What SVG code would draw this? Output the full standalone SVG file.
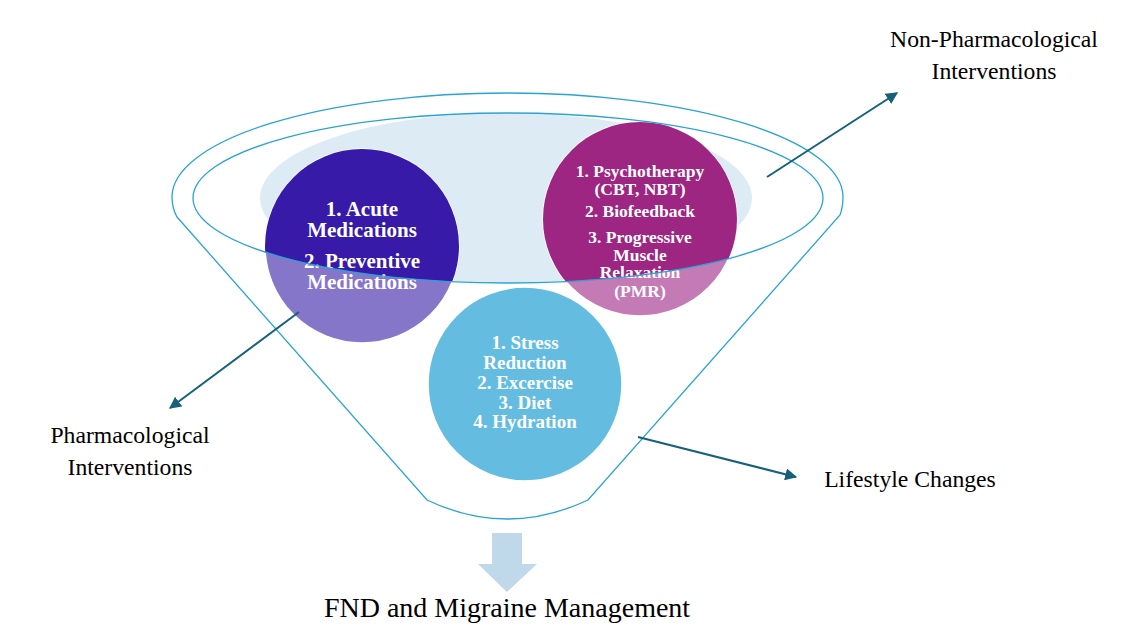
<svg xmlns="http://www.w3.org/2000/svg" width="1138" height="640" viewBox="0 0 1138 640">
  <style>
    .funnel { fill: none; stroke: #2aa3d4; stroke-width: 1.3; }
    .ctext { font-family: "Liberation Serif", "Times New Roman", serif; font-weight: bold; fill: #ffffff; text-anchor: middle; }
    .label { font-family: "Liberation Serif", "Times New Roman", serif; font-size: 23.7px; fill: #000000; text-anchor: middle; }
    .title { font-family: "Liberation Serif", "Times New Roman", serif; font-size: 28px; fill: #000000; text-anchor: middle; }
    .conn { stroke: #17607a; stroke-width: 2; fill: none; marker-end: url(#arrow); }
    .ring { stroke: #ffffff; stroke-width: 1.5; }
  </style>
  <defs>
    <marker id="arrow" viewBox="0 0 10 10" refX="9" refY="5" markerWidth="6" markerHeight="6" orient="auto" markerUnits="strokeWidth">
      <path d="M0,0 L10,5 L0,10 Z" fill="#17607a"/>
    </marker>
    <clipPath id="innerClip">
      <ellipse cx="508" cy="198" rx="315" ry="85"/>
    </clipPath>
  </defs>
  <rect width="1138" height="640" fill="#ffffff"/>

  <g id="funnel">
    <path class="funnel" d="M177 217 Q172 208 172 197 A335.5 104 0 0 1 843 197 Q843 207 840 215 L588 500 Q507 538 427 500 Z"/>
    <ellipse cx="506" cy="198" rx="246" ry="85" fill="#ddecf4"/>
  </g>

  <g id="node-pharm">
    <circle class="ring" cx="362" cy="246" r="97" fill="#8676ca"/>
    <circle cx="362" cy="246" r="97" fill="#371ba8" clip-path="url(#innerClip)"/>
    <text class="ctext" font-size="21" x="362" y="216">1. Acute</text>
    <text class="ctext" font-size="21" x="362" y="237">Medications</text>
    <text class="ctext" font-size="21" x="362" y="268">2. Preventive</text>
    <text class="ctext" font-size="21" x="362" y="289">Medications</text>
  </g>

  <g id="node-nonpharm">
    <circle class="ring" cx="640" cy="219" r="97" fill="#c47bb5"/>
    <circle cx="640" cy="219" r="97" fill="#9c2682" clip-path="url(#innerClip)"/>
    <text class="ctext" font-size="17.5" x="640" y="177">1. Psychotherapy</text>
    <text class="ctext" font-size="17.5" x="640" y="195">(CBT, NBT)</text>
    <text class="ctext" font-size="17.5" x="640" y="217">2. Biofeedback</text>
    <text class="ctext" font-size="17.5" x="640" y="243">3. Progressive</text>
    <text class="ctext" font-size="17.5" x="640" y="261">Muscle</text>
    <text class="ctext" font-size="17.5" x="640" y="278">Relaxation</text>
    <text class="ctext" font-size="17.5" x="640" y="297">(PMR)</text>
  </g>

  <g id="node-lifestyle">
    <circle class="ring" cx="525" cy="384" r="97" fill="#64bde0"/>
    <text class="ctext" font-size="19" x="525" y="349">1. Stress</text>
    <text class="ctext" font-size="19" x="525" y="369">Reduction</text>
    <text class="ctext" font-size="19" x="525" y="389">2. Excercise</text>
    <text class="ctext" font-size="19" x="525" y="409">3. Diet</text>
    <text class="ctext" font-size="19" x="525" y="428">4. Hydration</text>
  </g>

  <g id="funnel-rim">
    <ellipse class="funnel" cx="508" cy="198" rx="315" ry="85"/>
  </g>

  <g id="connectors">
    <line class="conn" x1="767" y1="177" x2="897" y2="93"/>
    <line class="conn" x1="299" y1="312" x2="170" y2="408"/>
    <line class="conn" x1="638" y1="437" x2="796" y2="477"/>
    <polygon points="492,533 522,533 522,564 537,564 507,592 478,564 492,564" fill="#bfd8ea"/>
  </g>

  <g id="label-nonpharm">
    <text class="label" x="994" y="47">Non-Pharmacological</text>
    <text class="label" x="994" y="79">Interventions</text>
  </g>
  <g id="label-pharm">
    <text class="label" x="130" y="443">Pharmacological</text>
    <text class="label" x="130" y="475">Interventions</text>
  </g>
  <g id="label-lifestyle">
    <text class="label" x="910" y="487">Lifestyle Changes</text>
  </g>
  <g id="title">
    <text class="title" x="507" y="617">FND and Migraine Management</text>
  </g>
</svg>
